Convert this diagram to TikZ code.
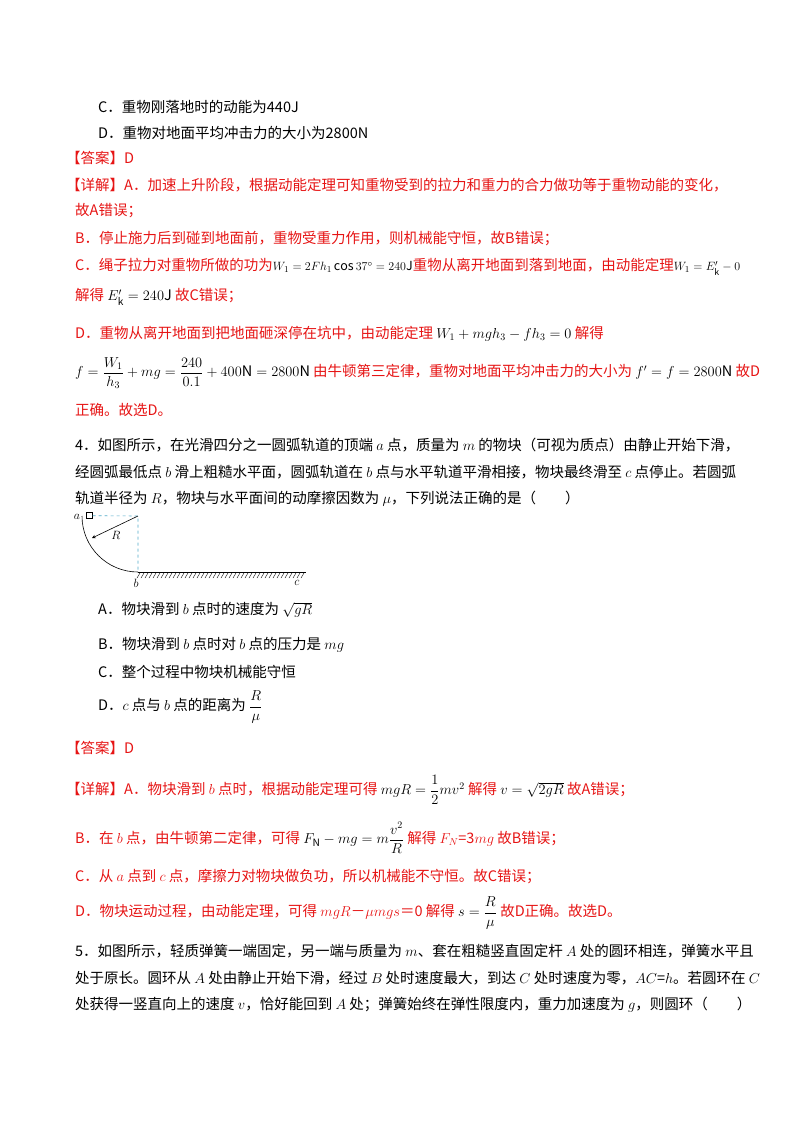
\documentclass[tikz,border=0pt]{standalone}
\usepackage{amsmath}
\usepackage{fontspec}
\setmainfont{Noto Sans CJK SC}
\definecolor{ansred}{RGB}{230,20,20}
\definecolor{dashblue}{RGB}{80,170,200}
\begin{document}
\begin{tikzpicture}[x=1pt,y=-1pt,
  txt/.style={anchor=west,inner sep=0,font=\fontsize{14.5}{16}\selectfont},
  red/.style={txt,text=ansred}]
\useasboundingbox (0,0) rectangle (800,1132);
\node[txt] (l1) at (98,107) {C．重物刚落地时的动能为440J};
\node[txt] (l2) at (98,133) {D．重物对地面平均冲击力的大小为2800N};
\node[red] (l3) at (66,158) {【答案】D};
\node[red] (l4) at (66,185) {【详解】A．加速上升阶段，根据动能定理可知重物受到的拉力和重力的合力做功等于重物动能的变化，};
\node[red] (l5) at (75,211) {故A错误；};
\node[red] (l6) at (75,239) {B．停止施力后到碰到地面前，重物受重力作用，则机械能守恒，故B错误；};
\node[red] (l7) at (75,267) {C．绳子拉力对重物所做的功为\textcolor{black}{\fontsize{12.5}{14}\selectfont$W_1=2Fh_1\cos37^\circ=240\mathrm{J}$}重物从离开地面到落到地面，由动能定理\textcolor{black}{\fontsize{12.5}{14}\selectfont$W_1=E_{\mathrm k}'-0$}};
\node[red] (l8) at (75,297) {解得 \textcolor{black}{$E_{\mathrm k}'=240\mathrm{J}$} 故C错误；};
\node[red] (l9) at (75,334) {D．重物从离开地面到把地面砸深停在坑中，由动能定理 \textcolor{black}{$W_1+mgh_3-fh_3=0$} 解得};
\node[red] (l10) at (75,373) {\textcolor{black}{$f=\dfrac{W_1}{h_3}+mg=\dfrac{240}{0.1}+400\mathrm{N}=2800\mathrm{N}$} 由牛顿第三定律，重物对地面平均冲击力的大小为 \textcolor{black}{$f'=f=2800\mathrm{N}$} 故D};
\node[red] (l11) at (75,410) {正确。故选D。};
\node[txt] (q1) at (75,445) {4．如图所示，在光滑四分之一圆弧轨道的顶端 $a$ 点，质量为 $m$ 的物块（可视为质点）由静止开始下滑，};
\node[txt] (q2) at (75,472) {经圆弧最低点 $b$ 滑上粗糙水平面，圆弧轨道在 $b$ 点与水平轨道平滑相接，物块最终滑至 $c$ 点停止。若圆弧};
\node[txt] (q3) at (75,499) {轨道半径为 $R$，物块与水平面间的动摩擦因数为 $\mu$，下列说法正确的是（　　）};
% diagram
\coordinate (O) at (138,516);
\coordinate (B) at (138,572);
\coordinate (A) at (82,516);
\node[draw,semithick,minimum size=6pt,inner sep=0,anchor=south west] (blk) at (86,519) {};
\draw[dashblue,dashed,semithick] (blk.east) -- (O) -- (B);
\draw[semithick] (A) arc[start angle=180,end angle=90,radius=56];
\draw[semithick,-stealth] (O) -- (92,538);
\node[font=\fontsize{13}{14}\selectfont] (R) at (116,535) {$R$};
\node[font=\fontsize{13}{14}\selectfont] (la) at (77,517) {$a$};
\node[font=\fontsize{13}{14}\selectfont] (lb) at (136,583) {$b$};
\node[font=\fontsize{13}{14}\selectfont] (lc) at (297,583) {$c$};
\draw[semithick] (B) -- (306,572);
\foreach \i in {0,...,41} {\draw[thin] (140+\i*4,573) -- (137+\i*4,578);}
% options
\node[txt] (oA) at (98,610) {A．物块滑到 $b$ 点时的速度为 $\sqrt{gR}$};
\node[txt] (oB) at (98,645) {B．物块滑到 $b$ 点时对 $b$ 点的压力是 $mg$};
\node[txt] (oC) at (98,672) {C．整个过程中物块机械能守恒};
\node[txt] (oD) at (98,707) {D．$c$ 点与 $b$ 点的距离为 $\dfrac{R}{\mu}$};
\node[red] (ans) at (66,748) {【答案】D};
\node[red] (e1) at (66,790) {【详解】A．物块滑到 $b$ 点时，根据动能定理可得 \textcolor{black}{$mgR=\dfrac12mv^2$} 解得 \textcolor{black}{$v=\sqrt{2gR}$} 故A错误；};
\node[red] (e2) at (75,838) {B．在 $b$ 点，由牛顿第二定律，可得 \textcolor{black}{$F_{\mathrm N}-mg=m\dfrac{v^2}{R}$} 解得 $F_N$=3$mg$ 故B错误；};
\node[red] (e3) at (75,877) {C．从 $a$ 点到 $c$ 点，摩擦力对物块做负功，所以机械能不守恒。故C错误；};
\node[red] (e4) at (75,913) {D．物块运动过程，由动能定理，可得 $mgR$－$\mu mgs$＝0 解得 \textcolor{black}{$s=\dfrac{R}{\mu}$} 故D正确。故选D。};
\node[txt] (p1) at (75,951) {5．如图所示，轻质弹簧一端固定，另一端与质量为 $m$、套在粗糙竖直固定杆 $A$ 处的圆环相连，弹簧水平且};
\node[txt] (p2) at (75,978) {处于原长。圆环从 $A$ 处由静止开始下滑，经过 $B$ 处时速度最大，到达 $C$ 处时速度为零，$AC$=$h$。若圆环在 $C$};
\node[txt] (p3) at (75,1005) {处获得一竖直向上的速度 $v$，恰好能回到 $A$ 处；弹簧始终在弹性限度内，重力加速度为 $g$，则圆环（　　）};
\end{tikzpicture}
\end{document}
